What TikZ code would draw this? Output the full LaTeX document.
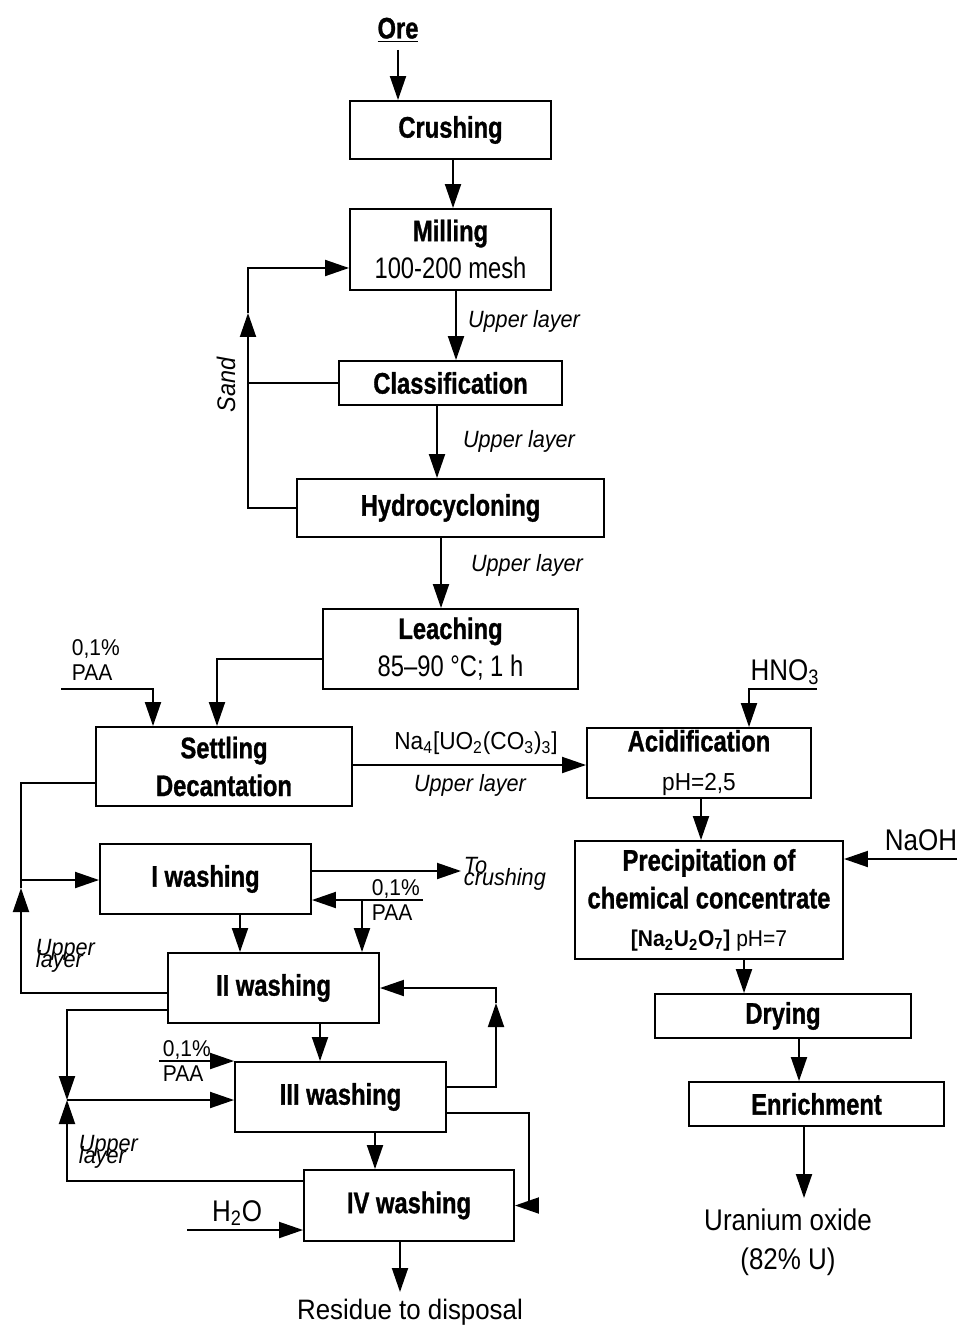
\documentclass[tikz,border=0pt]{standalone}
\usepackage{fontspec}
\setmainfont{Liberation Sans}
\newfontfamily\condf{Liberation Sans}[FakeStretch=0.8, BoldFeatures={FakeBold=1}]
\newfontfamily\labf{Liberation Sans}[FakeStretch=0.92]
\newfontfamily\midf{Liberation Sans}[FakeStretch=0.87]
\newcommand\tightls{\lineskiplimit=-30pt\relax}
\usetikzlibrary{arrows.meta,calc}
\begin{document}
\begin{tikzpicture}[x=0.02cm,y=-0.02cm, line width=1.1pt,
  box/.style={draw, line width=1.1pt, inner sep=0pt, align=center, font=\condf\fontsize{16.9}{21.5}\selectfont},
  sz/.style 2 args={minimum width=#1*0.02cm, minimum height=#2*0.02cm},
  arr/.style={-{Triangle[length=0.48cm,width=0.32cm]}},
  lbl/.style={inner sep=0pt, font=\labf\itshape\fontsize{13.4}{16}\selectfont},
  tight/.style={inner sep=0pt, align=left, font=\labf\itshape\fontsize{13.4}{6.8}\selectfont\tightls},
  txt/.style={inner sep=0pt, font=\labf\fontsize{13}{14.5}\selectfont},
  big/.style={inner sep=0pt, font=\midf\fontsize{17}{22}\selectfont}]
\useasboundingbox (0,0) rectangle (958,1327);

% boxes
\node[box, sz={201}{58}] (crush) at (450.5,130) {\bfseries Crushing};
\node[box, sz={201}{81}] (mill) at (450.5,249.5) {{\bfseries Milling}\\100-200 mesh};
\node[box, sz={223}{44}] (class) at (450.5,383) {\bfseries Classification};
\node[box, sz={307}{58}] (hydro) at (450.5,508) {\bfseries Hydrocycloning};
\node[box, sz={255}{80}] (leach) at (450.5,649) {{\bfseries Leaching}\\85–90 °C; 1 h};
\node[box, sz={256}{79}] (settle) at (224,766.5) {{\bfseries Settling}\\{\bfseries Decantation}};
\node[box, sz={224}{70}] (acid) at (699,763) {{\bfseries Acidification}\\[1pt]{\labf\fontsize{14}{15}\selectfont pH=2,5}};
\node[box, sz={268}{118}] (prec) at (709,900) {{\bfseries Precipitation of}\\{\bfseries chemical concentrate}\\{\labf\fontsize{13}{15}\selectfont\bfseries [Na\textsubscript{2}U\textsubscript{2}O\textsubscript{7}]\mdseries{} pH=7}};
\node[box, sz={256}{44}] (dry) at (783,1016) {\bfseries Drying};
\node[box, sz={255}{44}] (enr) at (816.5,1104) {\bfseries Enrichment};
\node[box, sz={211}{70}] (w1) at (205.5,879) {\bfseries I washing};
\node[box, sz={211}{70}] (w2) at (273.5,988) {\bfseries II washing};
\node[box, sz={211}{70}] (w3) at (340.5,1097) {\bfseries III washing};
\node[box, sz={210}{71}] (w4) at (409,1205.5) {\bfseries IV washing};

% free texts
\node[inner sep=0pt, font=\condf\bfseries\fontsize{16.9}{20}\selectfont] (ore) at (398,30) {\underline{Ore}};
\node[lbl] (ul1) at (524,321) {Upper layer};
\node[lbl] (ul2) at (519,441) {Upper layer};
\node[lbl] (ul3) at (527,565) {Upper layer};
\node[lbl, rotate=90, font=\labf\itshape\fontsize{14.5}{16}\selectfont] (sand) at (226,385) {Sand};
\node[txt, anchor=west, align=left] (paat1) at (71,660) {0,1\%\\PAA};
\node[inner sep=0pt, font=\labf\fontsize{14}{16}\selectfont] (na) at (476,743) {Na\textsubscript{4}[UO\textsubscript{2}(CO\textsubscript{3})\textsubscript{3}]};
\node[lbl] (ul4) at (470,785) {Upper layer};
\node[big] (hno) at (785,672) {HNO\textsubscript{3}};
\node[big] (naoh) at (921,840) {NaOH};
\node[big, align=center] (uox) at (788,1242) {Uranium oxide\\(82\% U)};
\node[tight, anchor=west] (ul5) at (35,956) {Upper\\layer};
\node[tight, anchor=west] (tocrt) at (463,874) {To\\crushing};
\node[txt, anchor=west, align=left, font=\labf\fontsize{13}{14.7}\selectfont] (paat2) at (371,900) {0,1\%\\PAA};
\node[txt, anchor=west, align=left, font=\labf\fontsize{13}{14.7}\selectfont] (paat3) at (162,1061) {0,1\%\\PAA};
\node[tight, anchor=west] (ul6) at (78,1152) {Upper\\layer};
\node[big] (h2o) at (237,1213) {H\textsubscript{2}O};
\node[inner sep=0pt, font=\labf\fontsize{16}{20}\selectfont] (res) at (410,1312) {Residue to disposal};

% coordinates
\coordinate (oreb) at (398,50);
\coordinate (sandtip) at (248,313);
\coordinate (paa1) at (61,689);
\coordinate (hnoc) at (817,689);
\coordinate (naohc) at (957,859);
\coordinate (uo) at (804,1198);
\coordinate (j1) at (21,880);
\coordinate (tocr) at (461,871);
\coordinate (paa2) at (423,900);
\coordinate (j2) at (67,1100);
\coordinate (paa3) at (159,1061);
\coordinate (r1) at (496,1003);
\coordinate (h2oc) at (187,1230);
\coordinate (resc) at (400,1292);

% main chain
\draw[arr] (oreb) -- (oreb |- crush.north);
\draw[arr] (453,0 |- crush.south) -- (453,0 |- mill.north);
\draw[arr] (456,0 |- mill.south) -- (456,0 |- class.north);
\draw[arr] (437,0 |- class.south) -- (437,0 |- hydro.north);
\draw[arr] (441,0 |- hydro.south) -- (441,0 |- leach.north);
% sand loop
\draw[arr] (hydro.west) -| (sandtip);
\draw (class.west) -- (class.west -| sandtip);
\draw[arr] (sandtip) |- (mill.west |- 0,268);
% leaching to settling
\draw[arr] (leach.west |- 0,659) -| (217,0 |- settle.north);
\draw[arr] (paa1) -| (153,0 |- settle.north);
\draw[arr] (settle.east |- 0,765) -- (acid.west |- 0,765);
% right chain
\draw[arr] (hnoc) -| (749,0 |- acid.north);
\draw[arr] (701,0 |- acid.south) -- (701,0 |- prec.north);
\draw[arr] (naohc) -- (naohc -| prec.east);
\draw[arr] (744,0 |- prec.south) -- (744,0 |- dry.north);
\draw[arr] (799,0 |- dry.south) -- (799,0 |- enr.north);
\draw[arr] (804,0 |- enr.south) -- (uo);
% washing
\draw (settle.west |- 0,783) -| (21,888);
\draw[arr] (j1) -- (j1 -| w1.west);
\draw[arr] (w2.west |- 0,993) -| (21,888);
\draw[arr] (w1.east |- tocr) -- (tocr);
\draw[arr] (paa2) -- (paa2 -| w1.east);
\draw[arr] (362,900) -- (362,0 |- w2.north);
\draw[arr] (240,0 |- w1.south) -- (240,0 |- w2.north);
\draw[arr] (w2.west |- 0,1010) -| (j2);
\draw[arr] (j2) -- (j2 -| w3.west);
\draw[arr] (w4.west |- 0,1181) -| (j2);
\draw[arr] (paa3) -- (paa3 -| w3.west);
\draw[arr] (320,0 |- w2.south) -- (320,0 |- w3.north);
\draw[arr] (w3.east |- 0,1087) -| (r1);
\draw[arr] (r1) |- (w2.east);
\draw[arr] (w3.east |- 0,1113) -| (w4.east -| 529,0) -- (w4.east);
\draw[arr] (375,0 |- w3.south) -- (375,0 |- w4.north);
\draw[arr] (h2oc) -- (h2oc -| w4.west);
\draw[arr] (400,0 |- w4.south) -- (resc);
\end{tikzpicture}
\end{document}
